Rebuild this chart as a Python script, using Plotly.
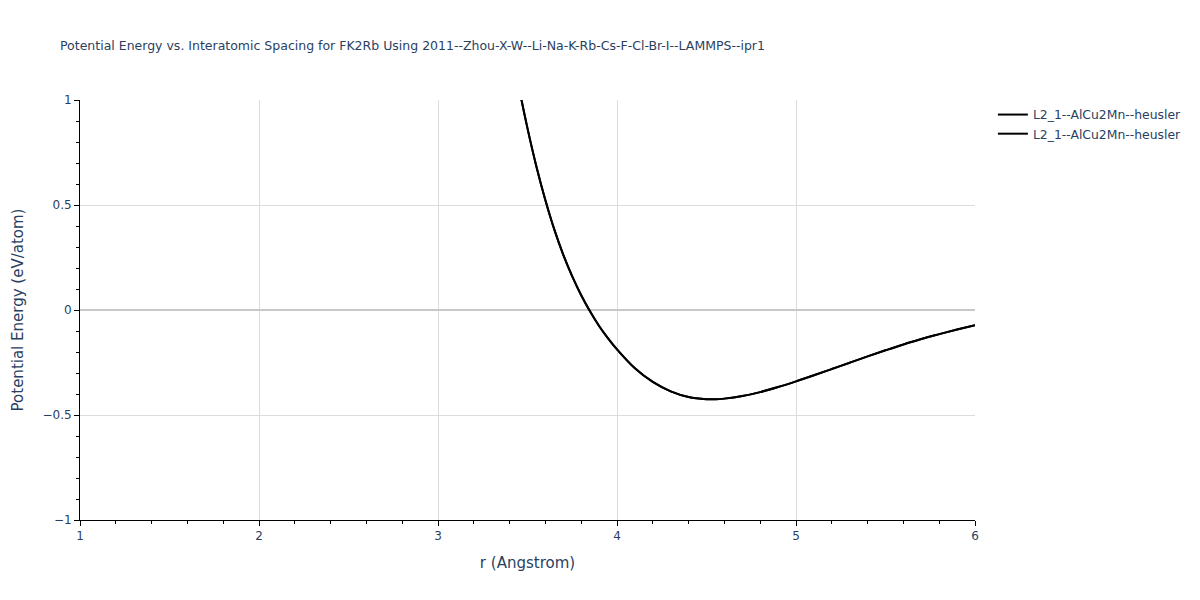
import plotly.graph_objects as go

r_vals = [3.40, 3.45, 3.50, 3.55, 3.60, 3.65, 3.70, 3.75, 3.80, 3.845, 3.90, 3.95, 4.00,
          4.10, 4.20, 4.30, 4.40, 4.50, 4.55, 4.60, 4.70, 4.80, 4.90, 5.00,
          5.10, 5.20, 5.30, 5.40, 5.50, 5.60, 5.70, 5.80, 5.90, 6.00]
e_vals = [1.30, 1.07, 0.865, 0.6825, 0.5225, 0.3825, 0.2625, 0.160, 0.070, 0.0, -0.076, -0.135, -0.1875,
          -0.2775, -0.3425, -0.3875, -0.4145, -0.4245, -0.425, -0.422, -0.410, -0.391, -0.367, -0.340,
          -0.311, -0.281, -0.251, -0.221, -0.192, -0.164, -0.138, -0.115, -0.093, -0.072]
series_names = ["L2_1--AlCu2Mn--heusler", "L2_1--AlCu2Mn--heusler"]

fig = go.Figure()
for name in series_names:
    fig.add_trace(go.Scatter(x=r_vals, y=e_vals, mode="lines", name=name,
                             line=dict(color="black", width=2, shape="spline", smoothing=1)))

axis_common = dict(showline=True, linecolor="black", linewidth=1, ticks="outside",
                   ticklen=5, tickcolor="black", showgrid=True, gridcolor="#dcdcdc",
                   tickfont=dict(size=12, color="#2a3f5f"), mirror=False, automargin=False)

fig.update_layout(
    width=1200, height=600,
    title=dict(text="Potential Energy vs. Interatomic Spacing for FK2Rb Using 2011--Zhou-X-W--Li-Na-K-Rb-Cs-F-Cl-Br-I--LAMMPS--ipr1",
               x=52/1200, y=1 - 38/600, xanchor="left", yanchor="middle",
               font=dict(size=12.5, color="#2a3f5f")),
    plot_bgcolor="white", paper_bgcolor="white",
    font=dict(family="DejaVu Sans, Verdana, sans-serif", color="#2a3f5f"),
    margin=dict(l=72, r=233, t=92, b=88),
    legend=dict(x=1.02, y=1, xanchor="left", yanchor="top", font=dict(size=12.4)),
    xaxis=dict(range=[1, 6], dtick=1, title=dict(text="r (Angstrom)", font=dict(size=15)),
               minor=dict(dtick=0.2, ticks="outside", ticklen=3, tickcolor="black", showgrid=False),
               zeroline=False, **axis_common),
    yaxis=dict(range=[-1, 1], dtick=0.5, title=dict(text="Potential Energy (eV/atom)", font=dict(size=15)),
               minor=dict(dtick=0.1, ticks="outside", ticklen=3, tickcolor="black", showgrid=False),
               zeroline=True, zerolinecolor="#c8c8c8", zerolinewidth=2, **axis_common),
)

fig.write_html("out.html")
